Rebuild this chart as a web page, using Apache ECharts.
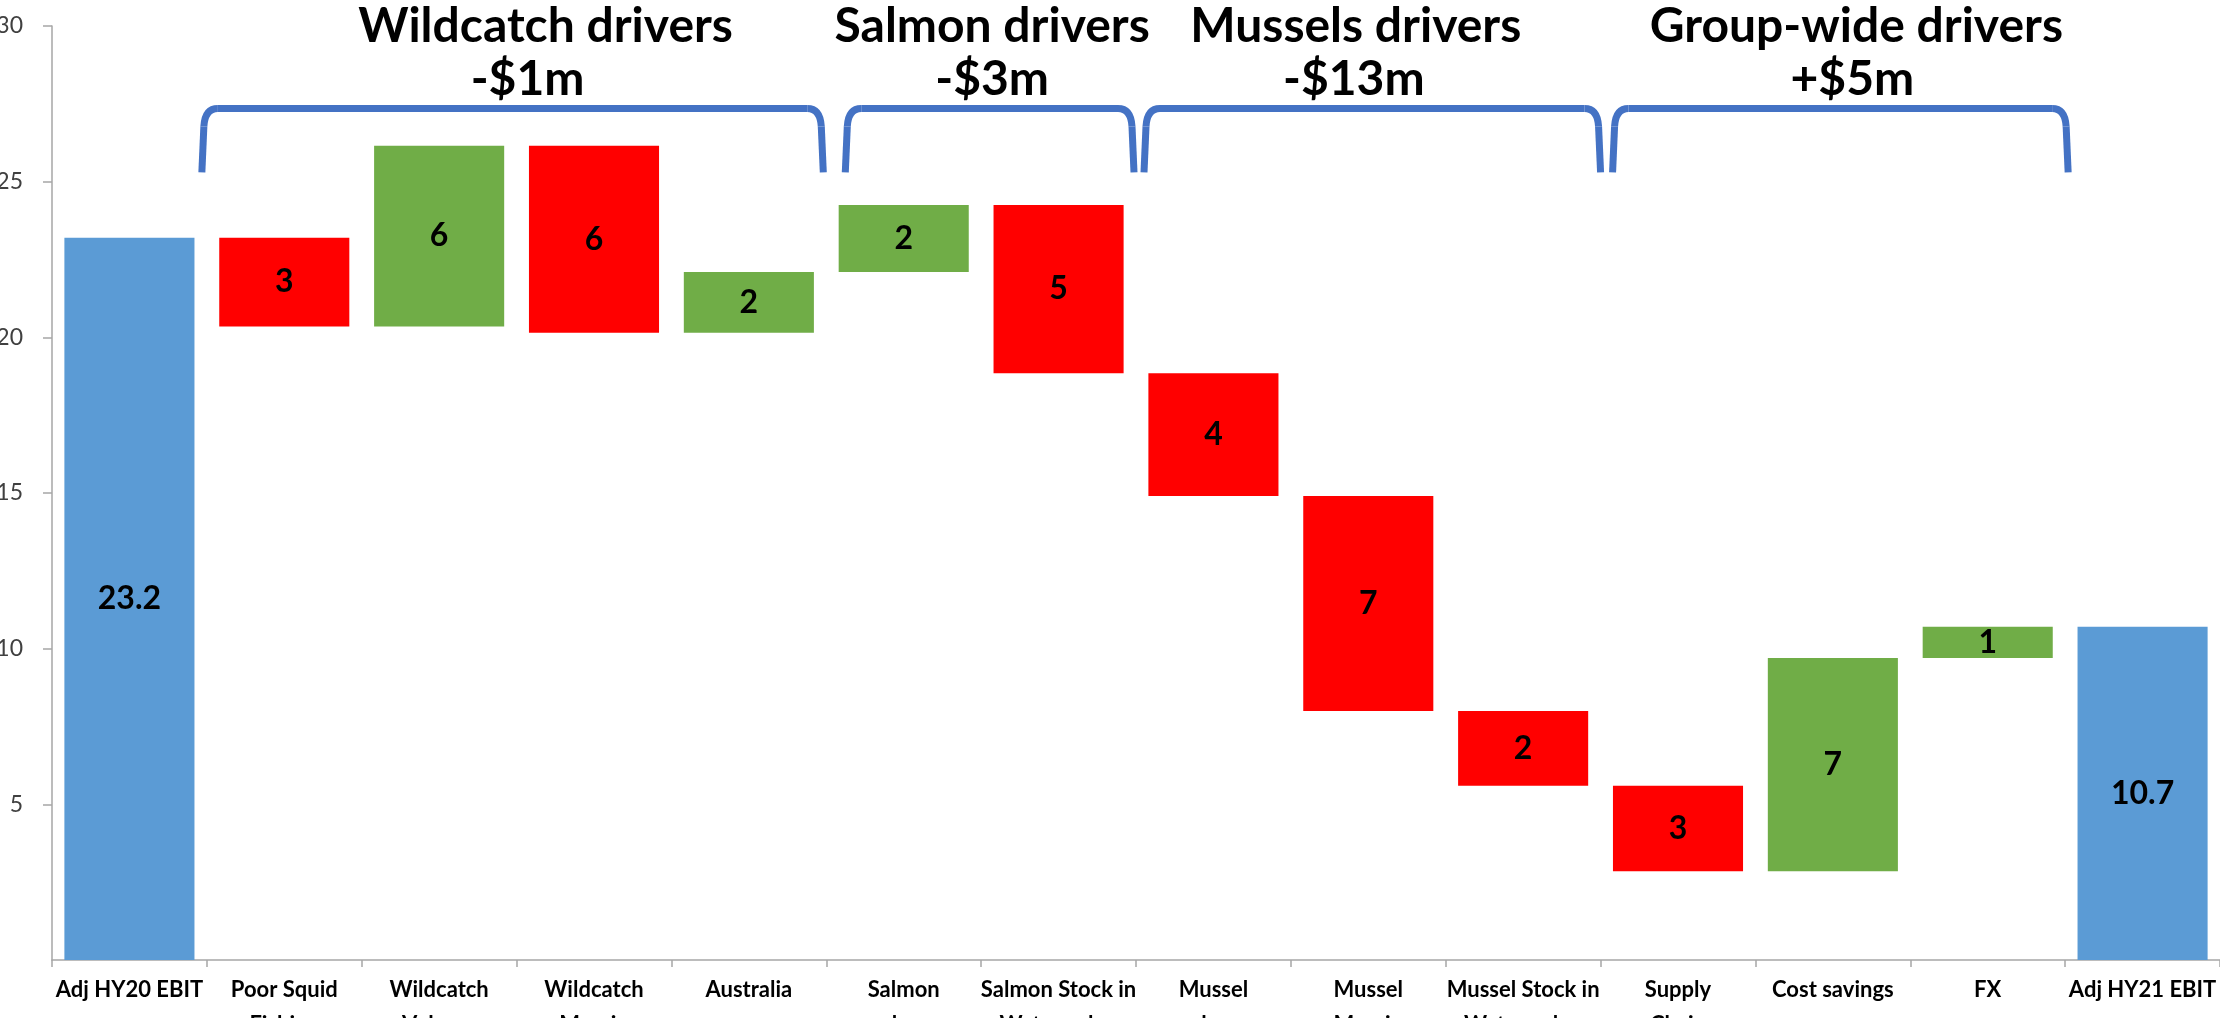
<!DOCTYPE html>
<html>
<head>
<meta charset="utf-8">
<title>EBIT bridge HY20 to HY21</title>
<script src="https://cdn.jsdelivr.net/npm/echarts@6/dist/echarts.min.js"></script>
<style>
  html, body { margin: 0; padding: 0; background: #ffffff; }
  #chart { width: 2220px; height: 1018px; }
</style>
</head>
<body>
<div id="chart"></div>
<script>
// ---- data ($m) ----
const categories = [
  'Adj HY20 EBIT', 'Poor Squid\nFishing', 'Wildcatch\nVolume', 'Wildcatch\nMargin', 'Australia',
  'Salmon\nvolume', 'Salmon Stock in\nWater value', 'Mussel\nvolume', 'Mussel\nMargin',
  'Mussel Stock in\nWater value', 'Supply\nChain', 'Cost savings', 'FX', 'Adj HY21 EBIT'
];
const openingEbit = 23.2;
const closingEbit = 10.7;
// movements for categories 1..12
const movements = [-2.85, 5.8, -6.0, 1.95, 2.15, -5.4, -3.95, -6.9, -2.4, -2.75, 6.85, 1.0];

const groupNames = ['Wildcatch drivers', 'Salmon drivers', 'Mussels drivers', 'Group-wide drivers'];
const groupFirst = [1, 5, 7, 10];
const groupLast = [4, 6, 9, 12];

const yMin = 0, yMax = 30, yStep = 5;

// ---- styling ----
const FONT = "Lato, 'Liberation Sans', Arial, sans-serif";
const C_TOTAL = '#5B9BD5', C_UP = '#70AD47', C_DOWN = '#FF0000', C_BRACKET = '#4472C4';
const BRACKET_TOP = 27.35, BRACKET_FOOT = 25.3;          // in axis units
const bracketInsetL = [-5, 19, 8, 12], bracketInsetR = [3, 2, 0, -3];
const titleShift = [33, 2.5, -16.5, 16];
const amountShift = [15, 2.5, -18.5, 12];

// ---- waterfall construction ----
const baseData = [];
const barData = [];
function pushBar(base, height, color, text) {
  baseData.push(base);
  barData.push({ value: height, itemStyle: { color: color }, label: { formatter: text } });
}
pushBar(0, openingEbit, C_TOTAL, openingEbit.toFixed(1));
let running = openingEbit;
movements.forEach(function (m) {
  const next = running + m;
  pushBar(Math.min(running, next), Math.abs(m), m >= 0 ? C_UP : C_DOWN, String(Math.round(Math.abs(m))));
  running = next;
});
pushBar(0, closingEbit, C_TOTAL, closingEbit.toFixed(1));

function groupLabel(g) {
  let s = 0;
  for (let i = groupFirst[g]; i <= groupLast[g]; i++) s += movements[i - 1];
  const r = Math.round(Math.abs(s));
  return (s < 0 ? '-$' : '+$') + r + 'm';
}

const chart = echarts.init(document.getElementById('chart'), null, { renderer: 'canvas' });

chart.setOption({
  animation: false,
  backgroundColor: '#ffffff',
  grid: { left: 52, right: 0, top: 26, bottom: 58, containLabel: false, outerBoundsMode: 'none' },
  xAxis: {
    type: 'category',
    data: categories,
    axisLine: { lineStyle: { color: '#A6A6A6', width: 1.5 } },
    axisTick: { show: true, length: 7, lineStyle: { color: '#A6A6A6', width: 1.5 } },
    axisLabel: {
      interval: 0, margin: 12, color: '#000000', fontFamily: FONT, fontWeight: 'bold',
      fontSize: 22, lineHeight: 35
    }
  },
  yAxis: {
    type: 'value',
    min: yMin, max: yMax, interval: yStep,
    splitLine: { show: false },
    axisLine: { show: true, lineStyle: { color: '#A6A6A6', width: 1.5 } },
    axisTick: { show: true, length: 9, lineStyle: { color: '#A6A6A6', width: 1.5 } },
    axisLabel: { showMinLabel: false, margin: 29, color: '#404040', fontFamily: FONT, fontSize: 23 }
  },
  series: [
    {
      type: 'bar', stack: 'bridge', data: baseData, barCategoryGap: '16%',
      itemStyle: { color: 'rgba(0,0,0,0)' }, emphasis: { disabled: true }, silent: true
    },
    {
      type: 'bar', stack: 'bridge', data: barData, barCategoryGap: '16%',
      label: {
        show: true, position: 'inside', color: '#000000', fontFamily: FONT,
        fontWeight: 'bold', fontSize: 32
      }
    }
  ]
});

// bracket annotations above each driver group
function px(i, v) { return chart.convertToPixel({ gridIndex: 0 }, [i, v]); }
const band = px(1, 0)[0] - px(0, 0)[0];
const yt = px(0, BRACKET_TOP)[1];
const yb = px(0, BRACKET_FOOT)[1];
const graphics = [];
groupNames.forEach(function (name, g) {
  const x0 = px(groupFirst[g], 0)[0] - band / 2 + bracketInsetL[g];
  const x1 = px(groupLast[g], 0)[0] + band / 2 - bracketInsetR[g];
  const st = { stroke: C_BRACKET, lineWidth: 7, fill: null };
  graphics.push(
    { type: 'line', shape: { x1: x0, y1: yb, x2: x0 + 2, y2: yt + 18 }, style: st },
    { type: 'bezierCurve', shape: { x1: x0 + 2, y1: yt + 18, cpx1: x0 + 3, cpy1: yt, x2: x0 + 16, y2: yt }, style: st },
    { type: 'line', shape: { x1: x0 + 16, y1: yt, x2: x1 - 16, y2: yt }, style: st },
    { type: 'bezierCurve', shape: { x1: x1 - 16, y1: yt, cpx1: x1 - 3, cpy1: yt, x2: x1 - 2, y2: yt + 18 }, style: st },
    { type: 'line', shape: { x1: x1 - 2, y1: yt + 18, x2: x1, y2: yb }, style: st }
  );
  const cx = (x0 + x1) / 2;
  graphics.push(
    { type: 'text', x: cx + titleShift[g], y: 27, style: { text: name, fill: '#000', font: 'bold 48px ' + FONT, align: 'center', verticalAlign: 'middle' } },
    { type: 'text', x: cx + amountShift[g], y: 80, style: { text: groupLabel(g), fill: '#000', font: 'bold 48px ' + FONT, align: 'center', verticalAlign: 'middle' } }
  );
});
chart.setOption({ graphic: graphics });
</script>
</body>
</html>
